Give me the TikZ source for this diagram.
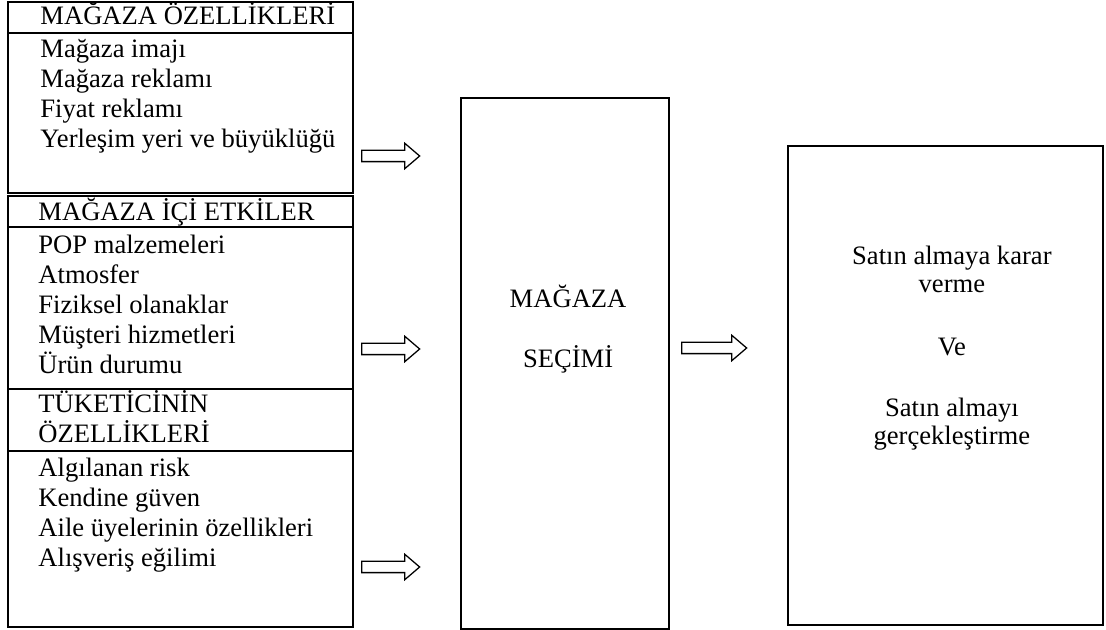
\documentclass[tikz,border=0pt]{standalone}
\usepackage{fontspec}
\setmainfont{Liberation Serif}
\usetikzlibrary{positioning, shapes.arrows}

\begin{document}
\begin{tikzpicture}[
        x=1pt, y=1pt,
        node distance=0pt,
        cerceve/.style={rectangle, draw, line width=0.75pt, outer sep=0pt, inner sep=0pt},
        baslik/.style={cerceve, minimum width=162.15pt, minimum height=14.57pt},
        govde/.style={cerceve, minimum width=162.15pt},
        yazi/.style={inner sep=0pt, align=left, font=\fontsize{12.5}{14.1}\selectfont},
        blokok/.style={single arrow, draw, line width=0.6pt, inner xsep=0pt, inner ysep=2.35pt, single arrow head extend=3.29pt, single arrow tip angle=81, minimum height=27.26pt, anchor=west}
      ]
        \useasboundingbox (0,0) rectangle (519.82,-296.1);

        % sol sutun
        \node[baslik, anchor=north west] (oz) at (3.76,-0.94) {};
        \node[govde, below=of oz, minimum height=75.2pt] (ozg) {};
        \node[baslik, below=1.41pt of ozg] (ic) {};
        \node[govde, below=of ic, minimum height=76.14pt] (icg) {};
        \node[baslik, below=of icg, minimum height=29.14pt] (tk) {};
        \node[govde, below=of tk, minimum height=82.72pt] (tkg) {};

        % yazilar (base = son satir)
        \node[yazi, below right=10.81pt and 15.04pt of oz.north west, anchor=base west] (ozt) {MAĞAZA ÖZELLİKLERİ};
        \node[yazi, below right=54.05pt and 15.04pt of ozg.north west, anchor=base west] (ozl) {Mağaza imajı\\Mağaza reklamı\\Fiyat reklamı\\Yerleşim yeri ve büyüklüğü};
        \node[yazi, below right=11.75pt and 14.1pt of ic.north west, anchor=base west] (ict) {MAĞAZA İÇİ ETKİLER};
        \node[yazi, below right=69.09pt and 14.1pt of icg.north west, anchor=base west] (icl) {POP malzemeleri\\Atmosfer\\Fiziksel olanaklar\\Müşteri hizmetleri\\Ürün durumu};
        \node[yazi, below right=25.38pt and 14.1pt of tk.north west, anchor=base west] (tkt) {TÜKETİCİNİN\\ÖZELLİKLERİ};
        \node[yazi, below right=54.52pt and 14.1pt of tkg.north west, anchor=base west] (tkl) {Algılanan risk\\Kendine güven\\Aile üyelerinin özellikleri\\Alışveriş eğilimi};

        % secim ve karar
        \node[cerceve, anchor=north west, minimum width=97.76pt, minimum height=249.57pt] (secim) at (216.67,-46.06) {};
        \node[yazi, align=center, below=126.9pt of secim.north, xshift=1.45pt, anchor=base] (secimt) {MAĞAZA\\[14.1pt]SEÇİMİ};
        \node[cerceve, anchor=north west, minimum width=148.05pt, minimum height=225.13pt] (karar) at (370.36,-68.62) {};
        \node[yazi, align=center, font=\fontsize{12.5}{13.2}\selectfont, below=140.53pt of karar.north, xshift=3pt, anchor=base] (karart) {Satın almaya karar\\verme\\[16.4pt]Ve\\[15.5pt]Satın almayı\\gerçekleştirme};

        % oklar
        \node[blokok] (ok1) at (169.67,-73.32) {};
        \node[blokok] (ok2) at (169.67,-164.03) {};
        \node[blokok] (ok3) at (169.67,-266.49) {};
        \node[blokok, minimum height=30.55pt] (ok4) at (320.07,-163.56) {};
      \end{tikzpicture}
\end{document}
